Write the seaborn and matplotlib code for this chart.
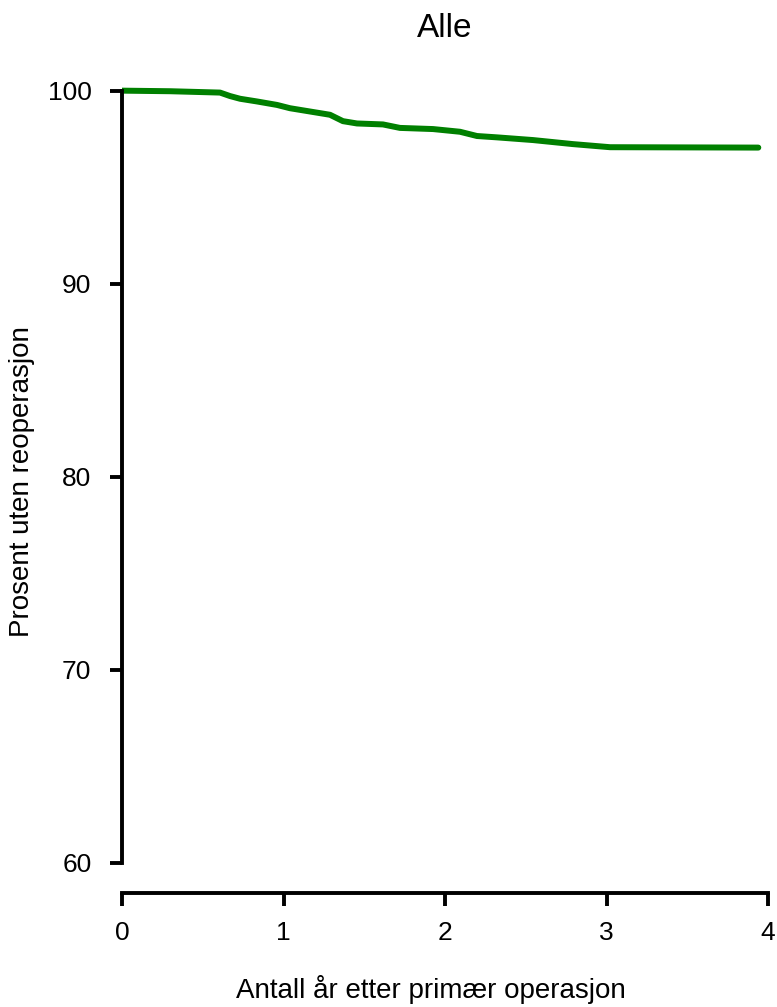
import matplotlib
matplotlib.use("Agg")
import matplotlib.pyplot as plt
import seaborn as sns
import pandas as pd

# Data (Kaplan-Meier type curve)
years = [0.0, 0.30, 0.607, 0.669, 0.731, 0.836, 0.960, 1.040, 1.164, 1.288,
         1.368, 1.455, 1.616, 1.721, 1.926, 2.093, 2.198, 2.322, 2.545,
         2.793, 3.022, 3.94]
percent = [100.0, 99.97, 99.90, 99.72, 99.58, 99.44, 99.26, 99.09, 98.92, 98.75,
           98.42, 98.30, 98.25, 98.07, 98.01, 97.87, 97.65, 97.58, 97.44,
           97.23, 97.07, 97.05]
x_ticks = [0, 1, 2, 3, 4]
y_ticks = [60, 70, 80, 90, 100]
title = "Alle"
xlabel = "Antall år etter primær operasjon"
ylabel = "Prosent uten reoperasjon"

sns.set_style("ticks")
plt.rcParams["font.family"] = ["Liberation Sans", "DejaVu Sans"]
plt.rcParams["text.color"] = "black"
plt.rcParams["axes.labelcolor"] = "black"
plt.rcParams["xtick.color"] = "black"
plt.rcParams["ytick.color"] = "black"

fig = plt.figure(figsize=(7.77, 10.07), dpi=100)
ax = fig.add_axes([122 / 777, 114 / 1007, 646 / 777, 834 / 1007])

df = pd.DataFrame({"x": years, "y": percent})
sns.lineplot(data=df, x="x", y="y", ax=ax, color="#008000", linewidth=4.3,
             estimator=None, solid_capstyle="round", solid_joinstyle="round")

ax.set_xlim(0, 4)
ax.set_ylim(58.43, 101.64)
ax.set_xticks(x_ticks)
ax.set_yticks(y_ticks)
ax.set_xticklabels([str(t) for t in x_ticks])
ax.set_yticklabels([str(t) for t in y_ticks])

for s in ["top", "right"]:
    ax.spines[s].set_visible(False)
ax.spines["left"].set_bounds(60, 100)
ax.spines["bottom"].set_bounds(0, 4)
for s in ["left", "bottom"]:
    ax.spines[s].set_linewidth(2.8)
    ax.spines[s].set_color("black")
    ax.spines[s].set_capstyle("projecting")

ax.tick_params(axis="both", length=9, width=2.8, colors="black", labelsize=19,
               labelcolor="black", direction="out")
ax.tick_params(axis="y", pad=13)
ax.tick_params(axis="x", pad=11)

ax.set_title(title, fontsize=24, pad=16, color="black")
ax.set_xlabel(xlabel, fontsize=20, va="baseline", color="black")
ax.set_ylabel(ylabel, fontsize=20, va="center", color="black")
ax.xaxis.set_label_coords((431 - 122) / 646, (893 - 998) / 834)
ax.yaxis.set_label_coords((22 - 122) / 646, (893 - 481.5) / 834)

fig.savefig("out.png", dpi=100, facecolor="white")
